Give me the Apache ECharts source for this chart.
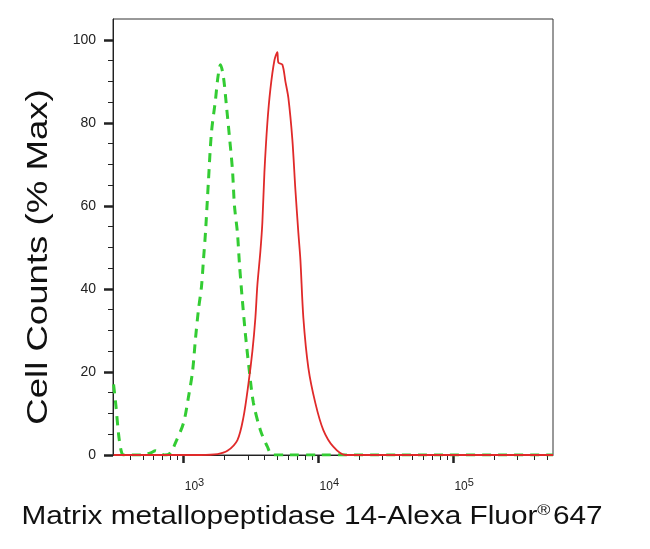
<!DOCTYPE html>
<html><head><meta charset="utf-8">
<script src="https://cdn.jsdelivr.net/npm/echarts@6/dist/echarts.min.js"></script>
<style>html,body{margin:0;padding:0;background:#fff}#c{width:650px;height:549px}</style>
</head><body><div id="c"></div>
<script>
// Fluorescence intensity (x) and % max counts (y)
const controlX = [303, 315, 330, 345, 360, 420, 500, 570, 620, 660, 720, 800, 873, 1000, 1089, 1166, 1227, 1291, 1359, 1406, 1455, 1531, 1611, 1726, 1800, 1880, 1978, 2083, 2192, 2307, 2388, 2512, 2600, 2737, 2880, 3084, 3302, 3716, 4188, 4563, 6000, 10000, 40000, 550000];
const controlY = [17, 12, 5, 1, 0, 0, 0, 0.5, 1, 0.5, 0, 0.5, 3, 7.7, 14, 20, 28, 35, 40.5, 47, 53.5, 66, 77.6, 85.5, 91, 94, 91, 84, 76.6, 68.7, 60, 53.5, 46, 37, 29, 20, 12.5, 6, 2, 0, 0, 0, 0, 0];
const sampleX = [303, 1000, 1336, 1786, 2118, 2512, 2780, 3027, 3243, 3412, 3532, 3716, 3845, 3981, 4188, 4406, 4721, 4966, 5058, 5411, 5696, 5995, 6415, 6754, 7111, 7362, 7745, 8433, 9505, 10890, 12910, 15850, 550000];
const sampleY = [0, 0, 0, 0.2, 1, 3.6, 9, 17, 25, 33, 41, 49, 56, 68, 80, 88, 95, 97, 94.5, 94, 90, 86, 76, 64, 53.5, 47, 33, 21, 12.5, 6, 2, 0, 0];
const yTicks = [0, 20, 40, 60, 80, 100];
const xMajorTicks = [1000, 10000, 100000];
const xMinorTicks = [400, 500, 600, 700, 800, 900, 2000, 3000, 4000, 5000, 6000, 7000, 8000, 9000, 20000, 30000, 40000, 50000, 60000, 70000, 80000, 90000, 200000, 300000, 400000, 500000];
const xLabels = {1000: '3', 10000: '4', 100000: '5'};
const xTitle = 'Matrix metallopeptidase 14-Alexa Fluor{sup|®}647';
const yTitle = 'Cell Counts (% Max)';

const zip = (xs, ys) => xs.map((x, i) => [x, ys[i]]);
const chart = echarts.init(document.getElementById('c'));
const axisCol = '#222';
chart.setOption({
  animation: false,
  backgroundColor: '#fff',
  graphic: [{
    type: 'text', x: 312, y: 517, scaleX: 1.19, scaleY: 1,
    style: {
      text: xTitle, font: '25px "Liberation Sans", Arial', fill: '#111', align: 'center', verticalAlign: 'middle',
      rich: {sup: {fontSize: 15, verticalAlign: 'top', padding: [0, 2, 12, 0], fontFamily: 'Liberation Sans', fill: '#111'}}
    }
  }, {
    type: 'text', x: 39, y: 257, rotation: Math.PI / 2, scaleX: 1.22, scaleY: 1,
    style: {text: yTitle, font: '30px "Liberation Sans", Arial', fill: '#111', align: 'center', verticalAlign: 'middle'}
  }],
  grid: {left: 113, top: 19, width: 440, height: 436, show: true, borderColor: '#333', borderWidth: 1, containLabel: false},
  xAxis: [{
    type: 'log', min: 300, max: 550000, position: 'bottom',
    axisLine: {show: true, lineStyle: {color: axisCol, width: 1}},
    splitLine: {show: false},
    axisTick: {show: true, customValues: xMinorTicks, length: 5, lineStyle: {color: axisCol, width: 1}},
    axisLabel: {show: false}
  }, {
    type: 'log', min: 300, max: 550000, position: 'bottom', offset: 0,
    axisLine: {show: false},
    splitLine: {show: false},
    axisTick: {show: true, customValues: xMajorTicks, length: 8, lineStyle: {color: axisCol, width: 2.5}},
    axisLabel: {
      show: true, customValues: xMajorTicks, margin: 22, padding: [0, 0, 0, 22],
      formatter: v => '{b|10}{s|' + xLabels[Math.round(v)] + '}',
      rich: {b: {fontSize: 12, fontFamily: 'Liberation Sans', color: '#222'}, s: {fontSize: 11, verticalAlign: 'top', padding: [0, 0, 9, 0], color: '#222', fontFamily: 'Liberation Sans'}}
    }
  }],
  yAxis: {
    type: 'value', min: 0, max: 105, interval: 20,
    axisLine: {show: true, lineStyle: {color: axisCol, width: 1}},
    splitLine: {show: false},
    axisTick: {show: true, customValues: yTicks, length: 9, lineStyle: {color: axisCol, width: 2.5}},
    minorTick: {show: true, splitNumber: 4, length: 5, lineStyle: {color: axisCol, width: 1}},
    axisLabel: {customValues: yTicks, fontSize: 14, fontFamily: 'Liberation Sans', color: '#222', margin: 17}
  },
  series: [{
    type: 'line', name: 'control', data: zip(controlX, controlY), showSymbol: false, smooth: 0.3,
    lineStyle: {color: '#33cc33', width: 3, type: [9, 7]}, z: 2
  }, {
    type: 'line', name: 'sample', data: zip(sampleX, sampleY), showSymbol: false, smooth: 0.3,
    lineStyle: {color: '#e02a2a', width: 1.8}, z: 3
  }]
});
</script></body></html>
